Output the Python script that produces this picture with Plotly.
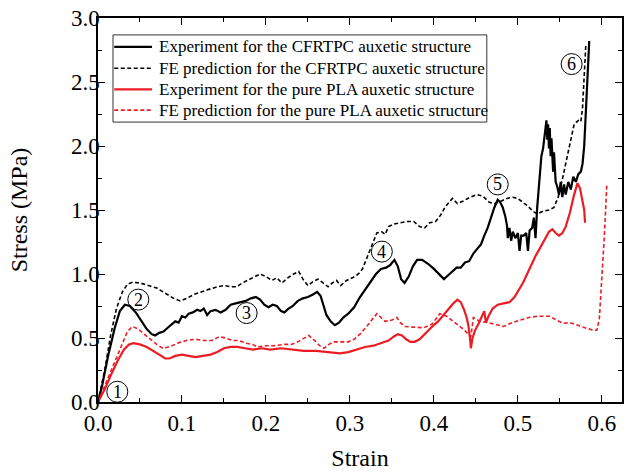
import plotly.graph_objects as go

# ---- data (strain, stress in MPa) ----
exp_cf_strain = [0, 0.005, 0.012, 0.02, 0.026, 0.032, 0.038, 0.045, 0.052, 0.058, 0.064, 0.068, 0.073, 0.078, 0.083, 0.088, 0.092, 0.096, 0.1, 0.104, 0.108, 0.113, 0.118, 0.122, 0.126, 0.13, 0.134, 0.14, 0.146, 0.152, 0.158, 0.164, 0.17, 0.176, 0.182, 0.188, 0.193, 0.198, 0.203, 0.208, 0.213, 0.218, 0.222, 0.227, 0.232, 0.238, 0.244, 0.25, 0.256, 0.261, 0.265, 0.268, 0.272, 0.277, 0.282, 0.287, 0.292, 0.298, 0.305, 0.312, 0.318, 0.325, 0.331, 0.337, 0.343, 0.348, 0.353, 0.357, 0.361, 0.365, 0.37, 0.375, 0.38, 0.386, 0.393, 0.4, 0.406, 0.412, 0.417, 0.422, 0.427, 0.432, 0.437, 0.442, 0.447, 0.452, 0.456, 0.46, 0.464, 0.468, 0.472, 0.476, 0.479, 0.482, 0.485, 0.487, 0.488, 0.49, 0.492, 0.494, 0.497, 0.5, 0.502, 0.504, 0.507, 0.51, 0.512, 0.514, 0.517, 0.519, 0.521, 0.523, 0.526, 0.528, 0.53, 0.532, 0.534, 0.535, 0.536, 0.537, 0.538, 0.539, 0.54, 0.542, 0.543, 0.545, 0.547, 0.549, 0.551, 0.553, 0.555, 0.557, 0.56, 0.563, 0.566, 0.569, 0.572, 0.575, 0.577, 0.579, 0.581, 0.583, 0.585]
exp_cf_stress = [0, 0.13, 0.36, 0.58, 0.71, 0.76, 0.75, 0.70, 0.63, 0.57, 0.53, 0.52, 0.54, 0.55, 0.58, 0.61, 0.63, 0.62, 0.67, 0.66, 0.69, 0.70, 0.72, 0.71, 0.73, 0.68, 0.71, 0.72, 0.70, 0.72, 0.76, 0.77, 0.78, 0.79, 0.81, 0.82, 0.80, 0.76, 0.74, 0.76, 0.75, 0.71, 0.70, 0.73, 0.75, 0.79, 0.81, 0.82, 0.84, 0.86, 0.83, 0.76, 0.68, 0.63, 0.60, 0.62, 0.66, 0.69, 0.74, 0.82, 0.88, 0.95, 1.00, 1.04, 1.05, 1.07, 1.11, 1.06, 0.96, 0.93, 0.98, 1.06, 1.11, 1.11, 1.08, 1.04, 1.00, 0.96, 0.99, 1.02, 1.05, 1.05, 1.09, 1.10, 1.16, 1.20, 1.23, 1.30, 1.36, 1.44, 1.52, 1.58, 1.56, 1.52, 1.45, 1.38, 1.28, 1.36, 1.26, 1.33, 1.28, 1.32, 1.18, 1.30, 1.30, 1.32, 1.18, 1.34, 1.36, 1.44, 1.28, 1.52, 1.75, 1.92, 1.98, 2.10, 2.20, 2.05, 2.17, 1.98, 2.14, 1.92, 2.06, 1.80, 1.95, 1.72, 1.68, 1.62, 1.72, 1.60, 1.70, 1.62, 1.72, 1.66, 1.76, 1.72, 1.78, 1.80, 1.86, 2.00, 2.25, 2.55, 2.82]

fe_cf_strain = [0, 0.008, 0.015, 0.022, 0.029, 0.035, 0.041, 0.05, 0.06, 0.07, 0.08, 0.09, 0.098, 0.106, 0.114, 0.122, 0.132, 0.142, 0.15, 0.158, 0.165, 0.172, 0.18, 0.187, 0.193, 0.2, 0.207, 0.213, 0.219, 0.226, 0.233, 0.239, 0.244, 0.25, 0.256, 0.262, 0.268, 0.274, 0.279, 0.284, 0.289, 0.296, 0.303, 0.31, 0.315, 0.32, 0.326, 0.332, 0.338, 0.342, 0.346, 0.352, 0.36, 0.368, 0.376, 0.383, 0.389, 0.395, 0.402, 0.408, 0.413, 0.418, 0.422, 0.428, 0.435, 0.443, 0.451, 0.458, 0.466, 0.473, 0.48, 0.487, 0.494, 0.5, 0.506, 0.512, 0.518, 0.523, 0.53, 0.537, 0.543, 0.548, 0.553, 0.558, 0.563, 0.567, 0.572, 0.575, 0.577, 0.579, 0.581]
fe_cf_stress = [0, 0.25, 0.52, 0.73, 0.86, 0.92, 0.935, 0.93, 0.91, 0.89, 0.85, 0.81, 0.79, 0.81, 0.84, 0.86, 0.88, 0.90, 0.91, 0.90, 0.90, 0.93, 0.96, 0.98, 1.00, 0.98, 0.95, 0.97, 0.93, 0.97, 1.00, 1.02, 0.96, 0.91, 0.94, 0.96, 0.93, 0.90, 0.93, 0.95, 0.91, 0.95, 0.97, 1.00, 1.04, 1.12, 1.22, 1.32, 1.33, 1.31, 1.37, 1.39, 1.40, 1.41, 1.41, 1.37, 1.36, 1.40, 1.41, 1.46, 1.52, 1.56, 1.59, 1.55, 1.57, 1.60, 1.62, 1.61, 1.56, 1.55, 1.57, 1.59, 1.60, 1.59, 1.56, 1.53, 1.49, 1.47, 1.49, 1.50, 1.52, 1.60, 1.74, 1.90, 2.05, 2.17, 2.20, 2.19, 2.30, 2.55, 2.80]

exp_pla_strain = [0, 0.008, 0.016, 0.024, 0.031, 0.037, 0.042, 0.05, 0.058, 0.066, 0.073, 0.08, 0.085, 0.092, 0.1, 0.108, 0.116, 0.125, 0.134, 0.142, 0.15, 0.158, 0.166, 0.175, 0.185, 0.195, 0.205, 0.218, 0.23, 0.245, 0.26, 0.275, 0.288, 0.298, 0.308, 0.318, 0.328, 0.338, 0.346, 0.352, 0.357, 0.362, 0.367, 0.372, 0.377, 0.383, 0.39, 0.398, 0.405, 0.412, 0.418, 0.423, 0.428, 0.432, 0.436, 0.439, 0.441, 0.443, 0.444, 0.446, 0.449, 0.453, 0.457, 0.46, 0.462, 0.465, 0.47, 0.476, 0.483, 0.49, 0.496, 0.501, 0.506, 0.511, 0.516, 0.521, 0.527, 0.532, 0.537, 0.541, 0.545, 0.549, 0.553, 0.557, 0.562, 0.567, 0.571, 0.574, 0.577, 0.579, 0.58]
exp_pla_stress = [0, 0.10, 0.22, 0.33, 0.41, 0.45, 0.46, 0.45, 0.43, 0.40, 0.37, 0.34, 0.34, 0.36, 0.37, 0.36, 0.35, 0.36, 0.37, 0.39, 0.42, 0.43, 0.43, 0.42, 0.41, 0.42, 0.41, 0.42, 0.41, 0.40, 0.40, 0.39, 0.38, 0.39, 0.41, 0.43, 0.44, 0.46, 0.48, 0.51, 0.53, 0.52, 0.49, 0.47, 0.47, 0.49, 0.54, 0.59, 0.63, 0.68, 0.73, 0.77, 0.80, 0.78, 0.72, 0.66, 0.60, 0.50, 0.42, 0.50, 0.56, 0.61, 0.66, 0.71, 0.62, 0.67, 0.73, 0.76, 0.77, 0.78, 0.82, 0.87, 0.93, 1.00, 1.07, 1.14, 1.21, 1.27, 1.33, 1.35, 1.32, 1.30, 1.32, 1.37, 1.48, 1.62, 1.71, 1.67, 1.58, 1.50, 1.40]

fe_pla_strain = [0, 0.01, 0.02, 0.028, 0.035, 0.041, 0.048, 0.055, 0.062, 0.07, 0.077, 0.085, 0.095, 0.105, 0.116, 0.126, 0.136, 0.144, 0.152, 0.16, 0.168, 0.176, 0.184, 0.19, 0.2, 0.21, 0.222, 0.23, 0.238, 0.245, 0.251, 0.258, 0.264, 0.269, 0.275, 0.281, 0.29, 0.298, 0.305, 0.312, 0.32, 0.327, 0.332, 0.337, 0.342, 0.35, 0.356, 0.36, 0.365, 0.375, 0.388, 0.398, 0.407, 0.415, 0.425, 0.435, 0.441, 0.444, 0.447, 0.455, 0.465, 0.475, 0.483, 0.493, 0.503, 0.513, 0.523, 0.538, 0.546, 0.554, 0.562, 0.57, 0.58, 0.59, 0.594, 0.597, 0.6, 0.603, 0.606]
fe_pla_stress = [0, 0.16, 0.32, 0.45, 0.55, 0.59, 0.57, 0.53, 0.49, 0.45, 0.42, 0.43, 0.46, 0.48, 0.49, 0.48, 0.48, 0.51, 0.50, 0.48, 0.48, 0.46, 0.45, 0.43, 0.44, 0.44, 0.45, 0.45, 0.47, 0.50, 0.52, 0.48, 0.44, 0.42, 0.45, 0.47, 0.47, 0.47, 0.49, 0.53, 0.59, 0.65, 0.69, 0.66, 0.63, 0.64, 0.66, 0.62, 0.59, 0.585, 0.58, 0.61, 0.69, 0.67, 0.62, 0.57, 0.53, 0.51, 0.66, 0.63, 0.62, 0.60, 0.59, 0.62, 0.64, 0.66, 0.67, 0.67, 0.64, 0.615, 0.62, 0.60, 0.58, 0.56, 0.56, 0.65, 0.95, 1.30, 1.71]

legend_names = [
    "Experiment for the CFRTPC auxetic structure",
    "FE prediction for the CFRTPC auxetic structure",
    "Experiment for the pure PLA auxetic structure",
    "FE prediction for the pure PLA auxetic structure",
]

stage_labels = ["1", "2", "3", "4", "5", "6"]
stage_strain = [0.023, 0.048, 0.177, 0.338, 0.476, 0.564]
stage_stress = [0.08, 0.80, 0.695, 1.175, 1.70, 2.64]

x_ticks = [0.0, 0.1, 0.2, 0.3, 0.4, 0.5, 0.6]
y_ticks = [0.0, 0.5, 1.0, 1.5, 2.0, 2.5, 3.0]

FONT = "Liberation Serif"
RED = "#ec1c24"
DASH = "4px,2.5px"

series = [
    (exp_cf_strain, exp_cf_stress, "black", 2.2, "solid"),
    (fe_cf_strain, fe_cf_stress, "black", 1.6, DASH),
    (exp_pla_strain, exp_pla_stress, RED, 2.2, "solid"),
    (fe_pla_strain, fe_pla_stress, RED, 1.6, DASH),
]

fig = go.Figure()
for (xs, ys, col, w, dash), name in zip(series, legend_names):
    fig.add_trace(go.Scatter(x=xs, y=ys, mode="lines", name=name, showlegend=False,
                             line=dict(color=col, width=w, dash=dash)))

# stage markers: circled numbers
for lab, sx, sy in zip(stage_labels, stage_strain, stage_stress):
    fig.add_shape(type="circle", xref="x", yref="y", xsizemode="pixel", ysizemode="pixel",
                  xanchor=sx, yanchor=sy, x0=-10.5, x1=10.5, y0=-10.5, y1=10.5,
                  line=dict(color="black", width=1), fillcolor="rgba(255,255,255,0)")
    fig.add_annotation(x=sx, y=sy, text=lab, showarrow=False, xref="x", yref="y",
                       font=dict(family=FONT, size=18, color="black"))

# boxed legend (drawn in paper coordinates)
leg_x0, leg_x1, leg_y0, leg_y1 = 0.0286, 0.742, 0.729, 0.956
leg_rows = [0.925, 0.869, 0.814, 0.760]
fig.add_shape(type="rect", xref="paper", yref="paper", x0=leg_x0, x1=leg_x1, y0=leg_y0, y1=leg_y1,
              line=dict(color="#333", width=1), fillcolor="white", layer="above")
for (xs, ys, col, w, dash), name, ry in zip(series, legend_names, leg_rows):
    fig.add_shape(type="line", xref="paper", yref="paper", x0=0.031, x1=0.103, y0=ry, y1=ry,
                  line=dict(color=col, width=w, dash=dash), layer="above")
    fig.add_annotation(x=0.113, y=ry, xref="paper", yref="paper", text=name, showarrow=False,
                       xanchor="left", yanchor="middle",
                       font=dict(family=FONT, size=17, color="black"))

axis_common = dict(
    showline=True, linecolor="black", linewidth=1.5, mirror="allticks",
    ticks="inside", ticklen=7, tickwidth=1.3, tickcolor="black",
    showgrid=False, zeroline=False, ticklabeloverflow="allow",
    tickfont=dict(family=FONT, size=23, color="black"),
)

fig.update_xaxes(
    range=[0, 0.624], tickvals=x_ticks, ticktext=[f"{v:.1f}" for v in x_ticks],
    minor=dict(ticks="inside", ticklen=4, dtick=0.05, tick0=0, tickcolor="black", tickwidth=1.2),
    title=dict(text="Strain", font=dict(family=FONT, size=24, color="black"), standoff=14),
    **axis_common,
)
fig.update_yaxes(
    range=[0, 3.0], tickvals=y_ticks, ticktext=[f"{v:.1f}" for v in y_ticks],
    minor=dict(ticks="inside", ticklen=4, dtick=0.25, tick0=0, tickcolor="black", tickwidth=1.2),
    title=dict(text="Stress (MPa)", font=dict(family=FONT, size=24, color="black"), standoff=37),
    ticklabelstandoff=-8,
    **axis_common,
)

fig.update_layout(
    width=629, height=472,
    margin=dict(l=98, r=7, t=18, b=70, autoexpand=False),
    paper_bgcolor="white", plot_bgcolor="white",
    showlegend=False,
)

# remove the browser's default 8px body margin so the figure fills the window exactly
fig.write_html("out.html", config={"displayModeBar": False},
               post_script="document.body.style.margin='0';document.body.style.overflow='hidden';")
